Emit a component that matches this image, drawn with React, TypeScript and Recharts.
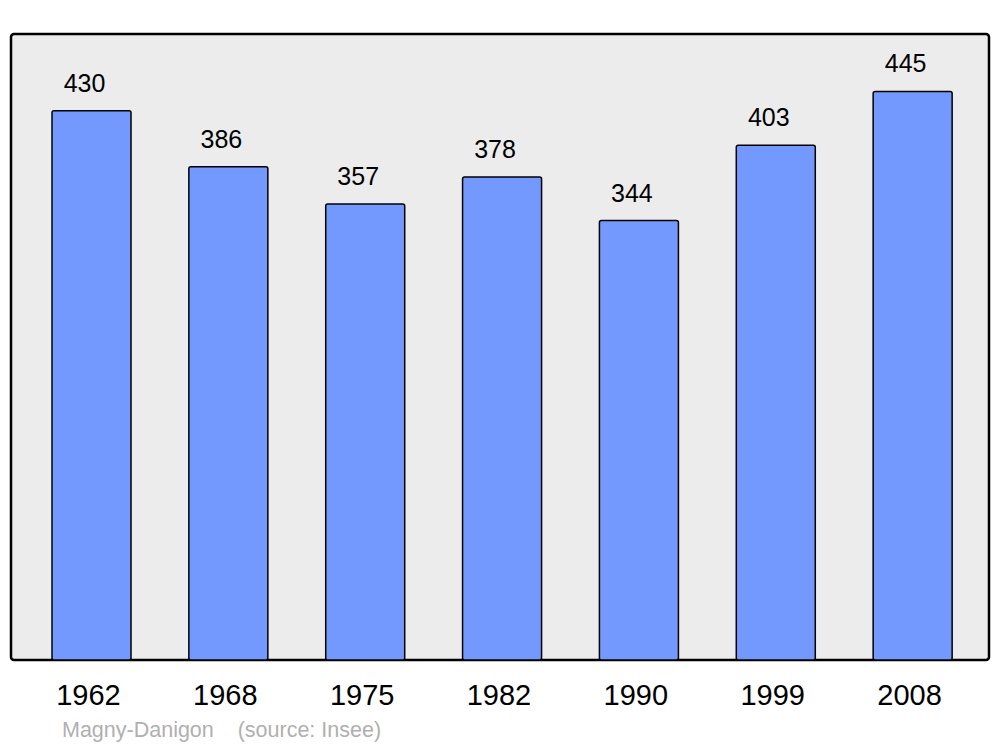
import { BarChart, Bar, XAxis, YAxis, LabelList } from 'recharts';

const years = ['1962', '1968', '1975', '1982', '1990', '1999', '2008'];
const population = [430, 386, 357, 378, 344, 403, 445];
const yMax = 490;

const data = years.map((year, i) => ({ year, population: population[i] }));

const font = '"Liberation Sans", Arial, sans-serif';

// value above each bar, a touch left of centre like the original
function ValueLabel(props: any) {
  const { x, y, width, value } = props;
  return (
    <text
      x={x + width / 2 - 7}
      y={y - 19}
      textAnchor="middle"
      fontSize={25}
      fontFamily={font}
      fill="#000"
    >
      {value}
    </text>
  );
}

export default function App() {
  return (
    <div style={{ position: 'absolute', left: 0, top: 0, width: 1000, height: 747, background: '#fff' }}>
      {/* grey plot frame behind the chart */}
      <svg width={1000} height={747} style={{ position: 'absolute', left: 0, top: 0 }}>
        <rect x={11} y={34} width={978} height={626} rx={3} fill="#ececec" stroke="#000" strokeWidth={2.5} />
      </svg>
      <div style={{ position: 'absolute', left: 0, top: 0 }}>
        <BarChart
          width={1000}
          height={747}
          data={data}
          margin={{ top: 34, right: 11, left: 11, bottom: 27 }}
        >
          <YAxis hide domain={[0, yMax]} type="number" allowDataOverflow />
          <XAxis
            dataKey="year"
            axisLine={false}
            tickLine={false}
            tickSize={0}
            tickMargin={24}
            height={60}
            padding={{ left: 12, right: 8 }}
            tick={{ fontSize: 29, fill: '#000', fontFamily: font, dx: -3 }}
            interval={0}
          />
          <Bar
            dataKey="population"
            fill="#7399ff"
            stroke="#000"
            strokeWidth={1.5}
            barSize={79}
            radius={2}
            isAnimationActive={false}
          >
            <LabelList dataKey="population" content={ValueLabel} />
          </Bar>
        </BarChart>
      </div>
      <div
        style={{
          position: 'absolute',
          left: 62,
          top: 718,
          fontFamily: font,
          fontSize: 21.5,
          color: '#b0b0b0',
          whiteSpace: 'pre',
        }}
      >
        {'Magny-Danigon    (source: Insee)'}
      </div>
    </div>
  );
}
